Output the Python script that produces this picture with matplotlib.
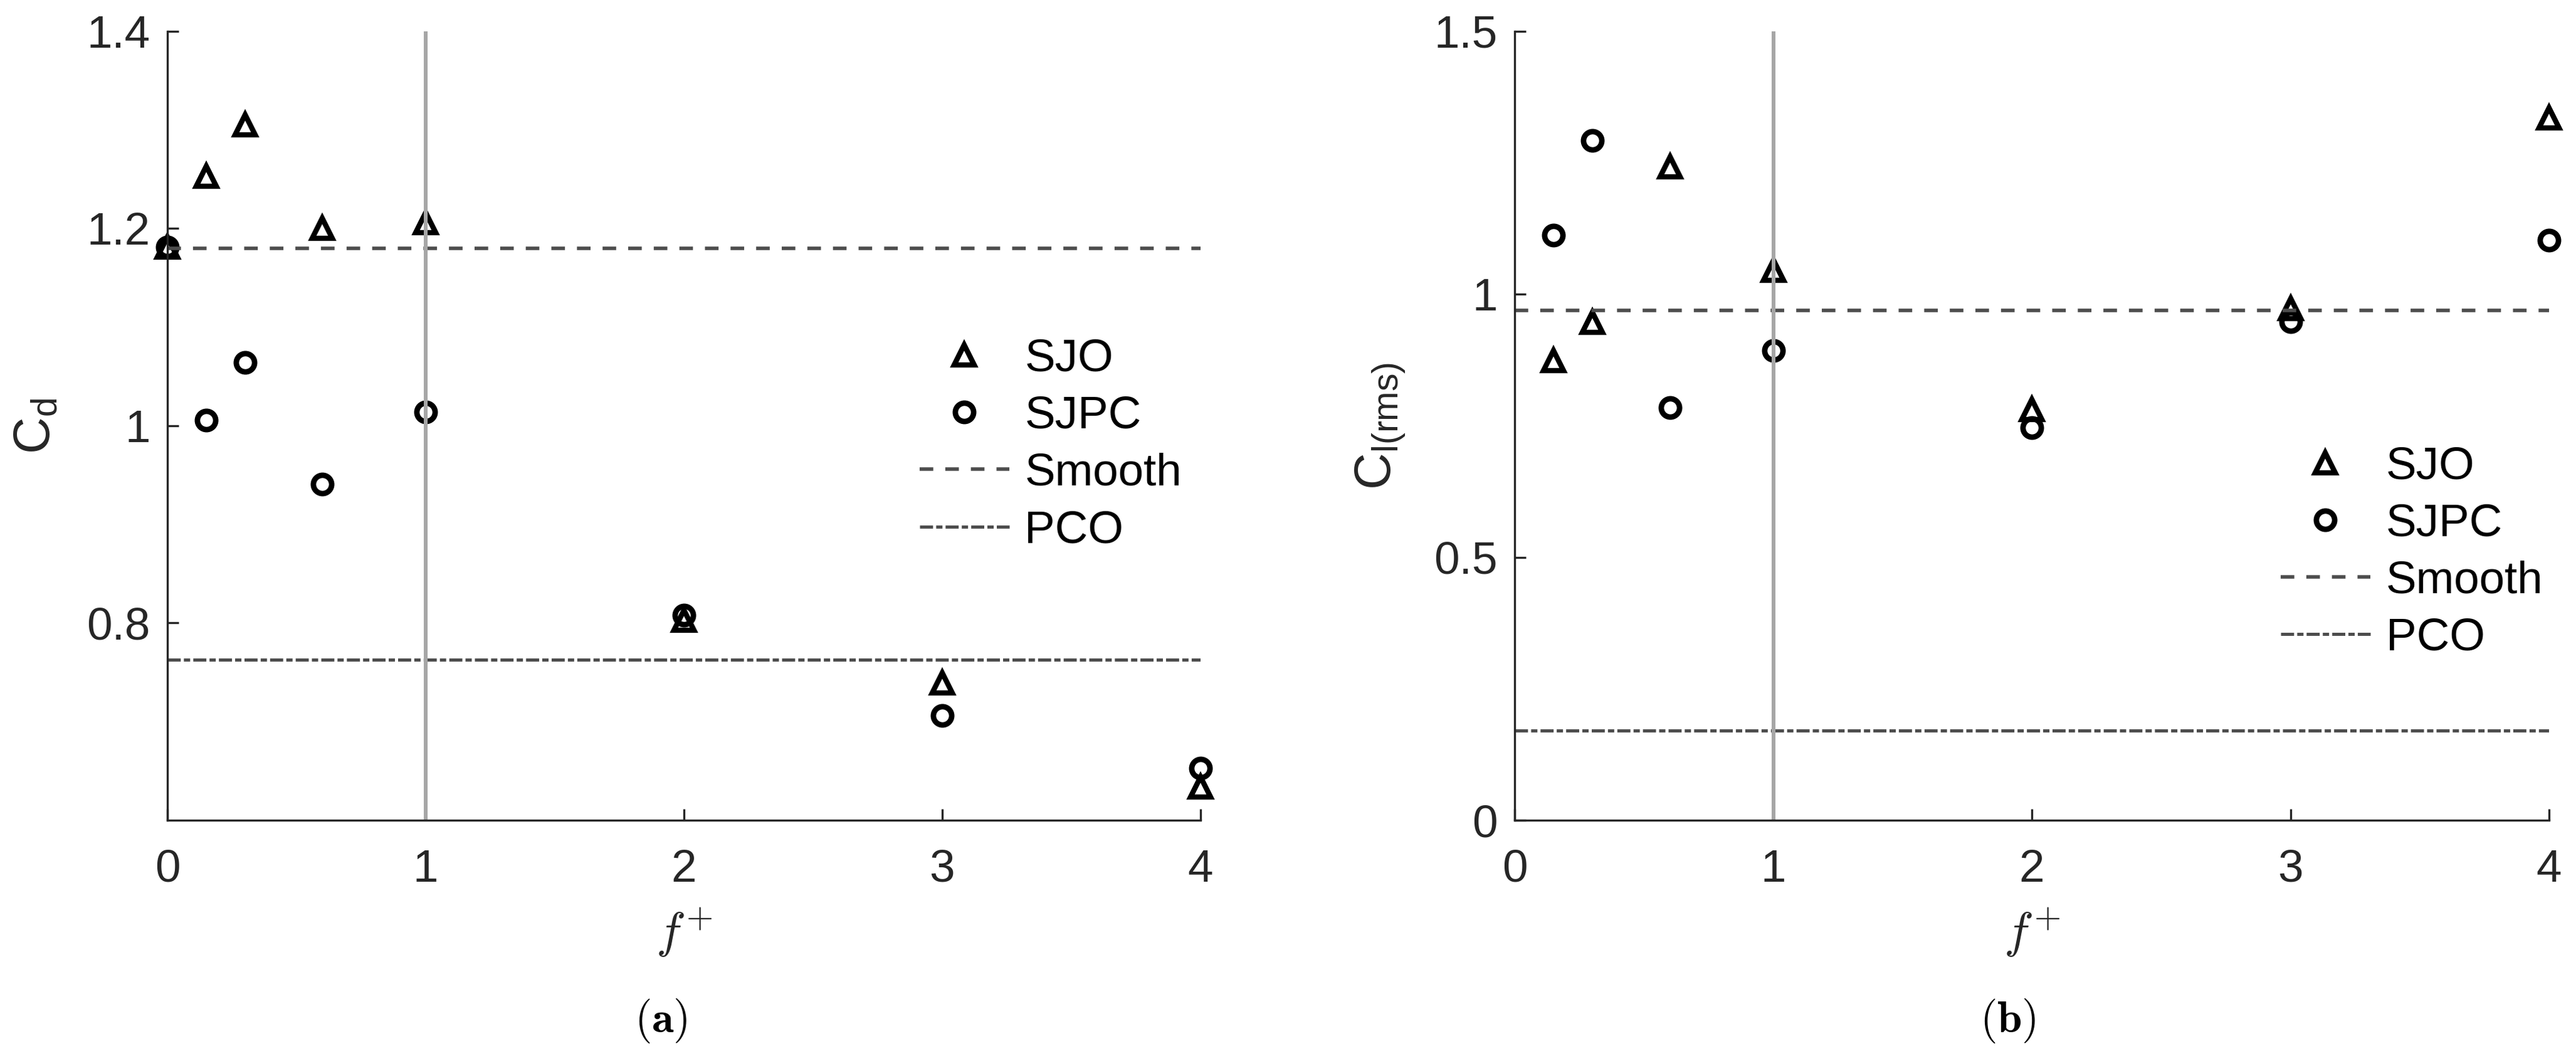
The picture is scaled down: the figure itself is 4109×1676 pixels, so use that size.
import matplotlib
matplotlib.use("Agg")
import matplotlib.pyplot as plt

plt.rcParams['font.family'] = ['Liberation Sans', 'DejaVu Sans']
plt.rcParams['mathtext.fontset'] = 'cm'
plt.rcParams['lines.scale_dashes'] = False

# data
f_cd = [0, 0.15, 0.3, 0.6, 1, 2, 3, 4]
cd_sjo = [1.181, 1.253, 1.305, 1.200, 1.206, 0.803, 0.739, 0.634]
cd_sjpc = [1.181, 1.006, 1.064, 0.941, 1.014, 0.808, 0.706, 0.653]
cd_smooth = 1.180
cd_pco = 0.763

f_cl = [0.15, 0.3, 0.6, 1, 2, 3, 4]
cl_sjo = [0.874, 0.947, 1.243, 1.046, 0.781, 0.973, 1.335]
cl_sjpc = [1.113, 1.293, 0.785, 0.893, 0.746, 0.948, 1.103]
cl_smooth = 0.969
cl_pco = 0.171

x_ticks = [0, 1, 2, 3, 4]
cd_ticks = [0.8, 1, 1.2, 1.4]
cd_labels = ['0.8', '1', '1.2', '1.4']
cl_ticks = [0, 0.5, 1, 1.5]
cl_labels = ['0', '0.5', '1', '1.5']

txt = '#262626'
fs = 17.5

fig = plt.figure(figsize=(4109 / 300, 1676 / 300), dpi=300)
ax1 = fig.add_axes([0.06498, 0.21957, 0.40107, 0.75060])
ax2 = fig.add_axes([0.58798, 0.21957, 0.40156, 0.75060])


def draw(ax, fx, sjo, sjpc, smooth, pco, ylim, yt, ytl, ylab, leg_y):
    ax.plot(fx, sjo, linestyle='none', marker='^', ms=7.6, mew=2.0, mfc='none',
            mec='k', label='SJO', clip_on=False)
    ax.plot(fx, sjpc, linestyle='none', marker='o', ms=7.0, mew=2.1, mfc='none',
            mec='k', label='SJPC', clip_on=False)
    ax.axhline(smooth, color='#4d4d4d', lw=1.35, linestyle=(0, (5.2, 4.6)), label='Smooth')
    ax.axhline(pco, color='#4d4d4d', lw=1.2, linestyle=(0, (5.0, 1.2, 2.4, 1.2)), label='PCO')
    ax.axvline(1, color='#a6a6a6', lw=1.45)
    ax.set_xlim(0, 4)
    ax.set_ylim(*ylim)
    ax.set_xticks(x_ticks)
    ax.set_xticklabels([str(t) for t in x_ticks])
    ax.set_yticks(yt)
    ax.set_yticklabels(ytl)
    for s in ['top', 'right']:
        ax.spines[s].set_visible(False)
    for s in ['left', 'bottom']:
        ax.spines[s].set_linewidth(0.8)
        ax.spines[s].set_color(txt)
    ax.tick_params(direction='in', length=4.3, width=0.8, color=txt, labelcolor=txt,
                   labelsize=fs)
    ax.tick_params(axis='x', pad=11)
    ax.tick_params(axis='y', pad=6.5)
    ax.set_xlabel(r'$f^{+}$', fontsize=19, color=txt, labelpad=6)
    ax.set_ylabel(ylab, fontsize=19.5, color=txt, labelpad=10)
    leg = ax.legend(loc='center left', bbox_to_anchor=leg_y, frameon=False, fontsize=fs,
                    handlelength=1.96, handletextpad=0.34, labelspacing=0.33,
                    borderpad=0, borderaxespad=0, numpoints=1)
    for t in leg.get_texts():
        t.set_color('k')


draw(ax1, f_cd, cd_sjo, cd_sjpc, cd_smooth, cd_pco, (0.6, 1.4), cd_ticks, cd_labels,
     r'$\mathregular{C_{d}}$', (0.728, 0.4754))
draw(ax2, f_cl, cl_sjo, cl_sjpc, cl_smooth, cl_pco, (0, 1.5), cl_ticks, cl_labels,
     r'$\mathregular{C_{l(rms)}}$', (0.7406, 0.339))

fig.text(1054 / 4109, 1 - 1628 / 1676, r'$(\mathbf{a})$', fontsize=17, ha='center', va='center')
fig.text(3203 / 4109, 1 - 1628 / 1676, r'$(\mathbf{b})$', fontsize=17, ha='center', va='center')

fig.savefig('out.png', dpi=300)
